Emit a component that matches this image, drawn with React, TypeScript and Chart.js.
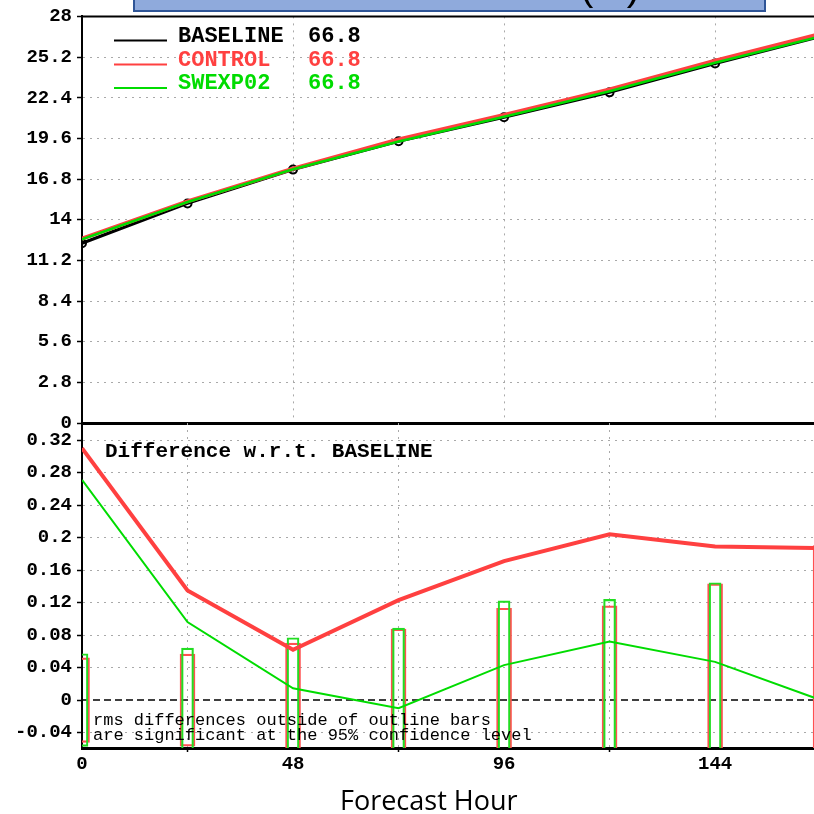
import React, { useEffect, useRef } from "react";
import { Chart, registerables } from "chart.js";

Chart.register(...registerables);

// ---------------- data ----------------
const hours = [0, 24, 48, 72, 96, 120, 144, 168];
const baselineRmse = [12.38, 15.12, 17.45, 19.4, 21.05, 22.77, 24.76, 26.62];
const controlRmse = [12.69, 15.26, 17.51, 19.52, 21.22, 22.97, 24.95, 26.8];
const swexp02Rmse = [12.65, 15.22, 17.47, 19.39, 21.09, 22.84, 24.81, 26.62];

const controlDiff = [0.31, 0.135, 0.062, 0.123, 0.171, 0.204, 0.189, 0.187];
const swexp02Diff = [0.271, 0.096, 0.0145, -0.01, 0.043, 0.072, 0.047, 0.0];

// half-height of the 95% significance outline bars
const controlSig = [0.052, 0.0566, 0.07, 0.0874, 0.113, 0.116, 0.143, 0.19];
const swexp02Sig = [0.057, 0.064, 0.0767, 0.0886, 0.122, 0.124, 0.1444, 0.225];

const legendNames = ["BASELINE", "CONTROL", "SWEXP02"];
const legendScores = ["66.8", "66.8", "66.8"];

const xTicks = [0, 48, 96, 144];
const xTickLabels = ["0", "48", "96", "144"];
const topYTicks = [0, 2.8, 5.6, 8.4, 11.2, 14, 16.8, 19.6, 22.4, 25.2, 28];
const topYLabels = ["0", "2.8", "5.6", "8.4", "11.2", "14", "16.8", "19.6", "22.4", "25.2", "28"];
const diffYTicks = [-0.04, 0, 0.04, 0.08, 0.12, 0.16, 0.2, 0.24, 0.28, 0.32];
const diffYLabels = ["-0.04", "0", "0.04", "0.08", "0.12", "0.16", "0.2", "0.24", "0.28", "0.32"];

const titleText = "RMSE (m)";
const diffTitle = "Difference w.r.t. BASELINE";
const noteLines = [
  "rms differences outside of outline bars",
  "are significant at the 95% confidence level",
];
const xAxisTitle = "Forecast Hour";

// ---------------- styles ----------------
const X_MIN = 0;
const X_MAX = 166.5;
const TOP_Y_MIN = 0;
const TOP_Y_MAX = 28;
const DIFF_Y_MIN = -0.059;
const DIFF_Y_MAX = 0.341;

const BLACK = "#000000";
const RED = "#ff4040";
const GREEN = "#00dc00";
const RED_BAR = "#ff5050";
const GREEN_BAR = "#22dd22";
const GRID = "#a9a9a9";
const MONO = "'Liberation Mono', 'DejaVu Sans Mono', monospace";

const tickFont = { family: MONO, weight: "bold" as const, size: 19 };

const pts = (ys: number[]) => hours.map((h, i) => ({ x: h, y: ys[i] }));
const bars = (vs: number[]) => hours.map((h, i) => ({ x: h, y: [-vs[i], vs[i]] }));

const topDecor = {
  id: "topDecor",
  afterDraw(chart: any) {
    const { ctx, chartArea } = chart;
    ctx.save();
    // title box (cut off at the top of the page)
    ctx.fillStyle = "#8faadc";
    ctx.fillRect(133, -10, 633, 22);
    ctx.strokeStyle = "#2f5597";
    ctx.lineWidth = 2;
    ctx.strokeRect(134, -10, 631, 21);
    ctx.fillStyle = BLACK;
    ctx.font = "40px 'Liberation Sans', sans-serif";
    ctx.textAlign = "right";
    ctx.textBaseline = "alphabetic";
    ctx.fillText(titleText, 640, 0);

    // top frame line
    ctx.strokeStyle = BLACK;
    ctx.lineWidth = 2;
    ctx.beginPath();
    ctx.moveTo(chartArea.left - 1, chartArea.top);
    ctx.lineTo(chartArea.right, chartArea.top);
    ctx.stroke();

    // legend
    const colors = [BLACK, RED, GREEN];
    const lineY = [40.5, 64.5, 88];
    const textY = [42, 65.5, 89];
    ctx.font = `bold 22px ${MONO}`;
    ctx.textAlign = "left";
    for (let i = 0; i < legendNames.length; i++) {
      ctx.strokeStyle = colors[i];
      ctx.lineWidth = 2;
      ctx.beginPath();
      ctx.moveTo(114, lineY[i]);
      ctx.lineTo(167, lineY[i]);
      ctx.stroke();
      ctx.fillStyle = colors[i];
      ctx.fillText(legendNames[i], 178, textY[i]);
      ctx.fillText(legendScores[i], 308, textY[i]);
    }
    ctx.restore();
  },
};

const bottomDecor = {
  id: "bottomDecor",
  beforeDatasetsDraw(chart: any) {
    const { ctx, chartArea, scales } = chart;
    const y0 = scales.y.getPixelForValue(0);
    ctx.save();
    ctx.strokeStyle = BLACK;
    ctx.lineWidth = 1.5;
    ctx.setLineDash([7, 4]);
    ctx.beginPath();
    ctx.moveTo(chartArea.left, y0);
    ctx.lineTo(chartArea.right, y0);
    ctx.stroke();
    ctx.restore();
  },
  afterDatasetsDraw(chart: any) {
    const { ctx } = chart;
    ctx.save();
    ctx.fillStyle = BLACK;
    ctx.textAlign = "left";
    ctx.textBaseline = "alphabetic";
    ctx.font = `bold 21px ${MONO}`;
    ctx.fillText(diffTitle, 105, 56.5);
    ctx.font = `17px ${MONO}`;
    ctx.fillText(noteLines[0], 93, 325);
    ctx.fillText(noteLines[1], 93, 339.5);
    ctx.font = "27px 'Open Sans', 'Noto Sans', sans-serif";
    ctx.fillText(xAxisTitle, 340, 410);
    ctx.restore();
  },
};

function topConfig(): any {
  return {
    type: "line",
    data: {
      datasets: [
        {
          label: legendNames[2],
          data: pts(swexp02Rmse),
          borderColor: GREEN,
          borderWidth: 2.5,
          pointRadius: 0,
          order: 1,
        },
        {
          label: legendNames[1],
          data: pts(controlRmse),
          borderColor: RED,
          borderWidth: 4,
          pointRadius: 0,
          order: 2,
        },
        {
          label: legendNames[0],
          data: pts(baselineRmse),
          borderColor: BLACK,
          borderWidth: 3,
          pointRadius: 4,
          pointBorderWidth: 2,
          pointBorderColor: BLACK,
          pointBackgroundColor: "rgba(255,255,255,0)",
          order: 3,
        },
      ],
    },
    options: {
      responsive: false,
      animation: false,
      devicePixelRatio: 1,
      layout: { autoPadding: false, padding: { top: 16, bottom: 17, left: 0, right: 0 } },
      plugins: { legend: { display: false }, tooltip: { enabled: false } },
      scales: {
        x: {
          type: "linear",
          min: X_MIN,
          max: X_MAX,
          afterBuildTicks: (s: any) => {
            s.ticks = xTicks.map((v) => ({ value: v }));
          },
          afterFit: (s: any) => {
            s.height = 0;
            s.paddingLeft = 0;
            s.paddingRight = 0;
          },
          ticks: { display: false },
          grid: { color: GRID, lineWidth: 1, drawTicks: false },
          border: { display: true, color: BLACK, width: 3, dash: [2, 5] },
        },
        y: {
          type: "linear",
          min: TOP_Y_MIN,
          max: TOP_Y_MAX,
          afterBuildTicks: (s: any) => {
            s.ticks = topYTicks.map((v) => ({ value: v }));
          },
          afterFit: (s: any) => {
            s.width = 82;
          },
          ticks: {
            autoSkip: false,
            padding: 5,
            color: BLACK,
            font: tickFont,
            callback: (_v: any, i: number) => topYLabels[i],
          },
          grid: { color: GRID, lineWidth: 1, drawTicks: true, tickLength: 5, tickColor: BLACK, tickWidth: 1.5 },
          border: { display: true, color: BLACK, width: 2, dash: [2, 5] },
        },
      },
    },
    plugins: [topDecor],
  };
}

function bottomConfig(): any {
  return {
    type: "bar",
    data: {
      datasets: [
        {
          type: "line",
          label: "CONTROL - BASELINE",
          data: pts(controlDiff),
          borderColor: RED,
          borderWidth: 4,
          pointRadius: 0,
          order: 2,
        },
        {
          type: "line",
          label: "SWEXP02 - BASELINE",
          data: pts(swexp02Diff),
          borderColor: GREEN,
          borderWidth: 2,
          pointRadius: 0,
          order: 1,
        },
        {
          type: "bar",
          label: "CONTROL 95%",
          data: bars(controlSig),
          backgroundColor: "rgba(0,0,0,0)",
          borderColor: RED_BAR,
          borderWidth: 1.5,
          borderSkipped: false,
          barThickness: 15,
          grouped: false,
          clip: 0,
          order: 4,
        },
        {
          type: "bar",
          label: "SWEXP02 95%",
          data: bars(swexp02Sig),
          backgroundColor: "rgba(0,0,0,0)",
          borderColor: GREEN_BAR,
          borderWidth: 1.5,
          borderSkipped: false,
          barThickness: 12,
          grouped: false,
          clip: 0,
          order: 3,
        },
      ],
    },
    options: {
      responsive: false,
      animation: false,
      devicePixelRatio: 1,
      layout: { autoPadding: false, padding: { top: 23, bottom: 0, left: 0, right: 0 } },
      plugins: { legend: { display: false }, tooltip: { enabled: false } },
      scales: {
        x: {
          type: "linear",
          min: X_MIN,
          max: X_MAX,
          offset: false,
          afterBuildTicks: (s: any) => {
            s.ticks = xTicks.map((v) => ({ value: v }));
          },
          afterFit: (s: any) => {
            s.height = 66;
            s.paddingLeft = 0;
            s.paddingRight = 0;
          },
          ticks: {
            autoSkip: false,
            maxRotation: 0,
            padding: 1,
            color: BLACK,
            font: tickFont,
            callback: (_v: any, i: number) => xTickLabels[i],
          },
          grid: { color: GRID, lineWidth: 1, drawTicks: true, tickLength: 4, tickColor: BLACK, tickWidth: 1.5 },
          border: { display: true, color: BLACK, width: 3, dash: [2, 5] },
        },
        y: {
          type: "linear",
          min: DIFF_Y_MIN,
          max: DIFF_Y_MAX,
          afterBuildTicks: (s: any) => {
            s.ticks = diffYTicks.map((v) => ({ value: v }));
          },
          afterFit: (s: any) => {
            s.width = 82;
          },
          ticks: {
            autoSkip: false,
            padding: 5,
            color: BLACK,
            font: tickFont,
            callback: (_v: any, i: number) => diffYLabels[i],
          },
          grid: {
            color: (c: any) => (c.tick && c.tick.value === 0 ? "rgba(0,0,0,0)" : GRID),
            lineWidth: 1,
            drawTicks: true,
            tickLength: 5,
            tickColor: BLACK,
            tickWidth: 1.5,
          },
          border: { display: true, color: BLACK, width: 2, dash: [2, 5] },
        },
      },
    },
    plugins: [bottomDecor],
  };
}

export default function App() {
  const topRef = useRef<HTMLCanvasElement>(null);
  const botRef = useRef<HTMLCanvasElement>(null);

  useEffect(() => {
    const c1 = new Chart(topRef.current as HTMLCanvasElement, topConfig());
    const c2 = new Chart(botRef.current as HTMLCanvasElement, bottomConfig());
    return () => {
      c1.destroy();
      c2.destroy();
    };
  }, []);

  return (
    <div
      style={{
        position: "fixed",
        left: 0,
        top: 0,
        width: 814,
        height: 814,
        overflow: "hidden",
        background: "#ffffff",
      }}
    >
      <canvas
        ref={topRef}
        width={814}
        height={440}
        style={{ position: "absolute", left: 0, top: 0, width: 814, height: 440 }}
      />
      <canvas
        ref={botRef}
        width={814}
        height={414}
        style={{ position: "absolute", left: 0, top: 400, width: 814, height: 414 }}
      />
    </div>
  );
}
